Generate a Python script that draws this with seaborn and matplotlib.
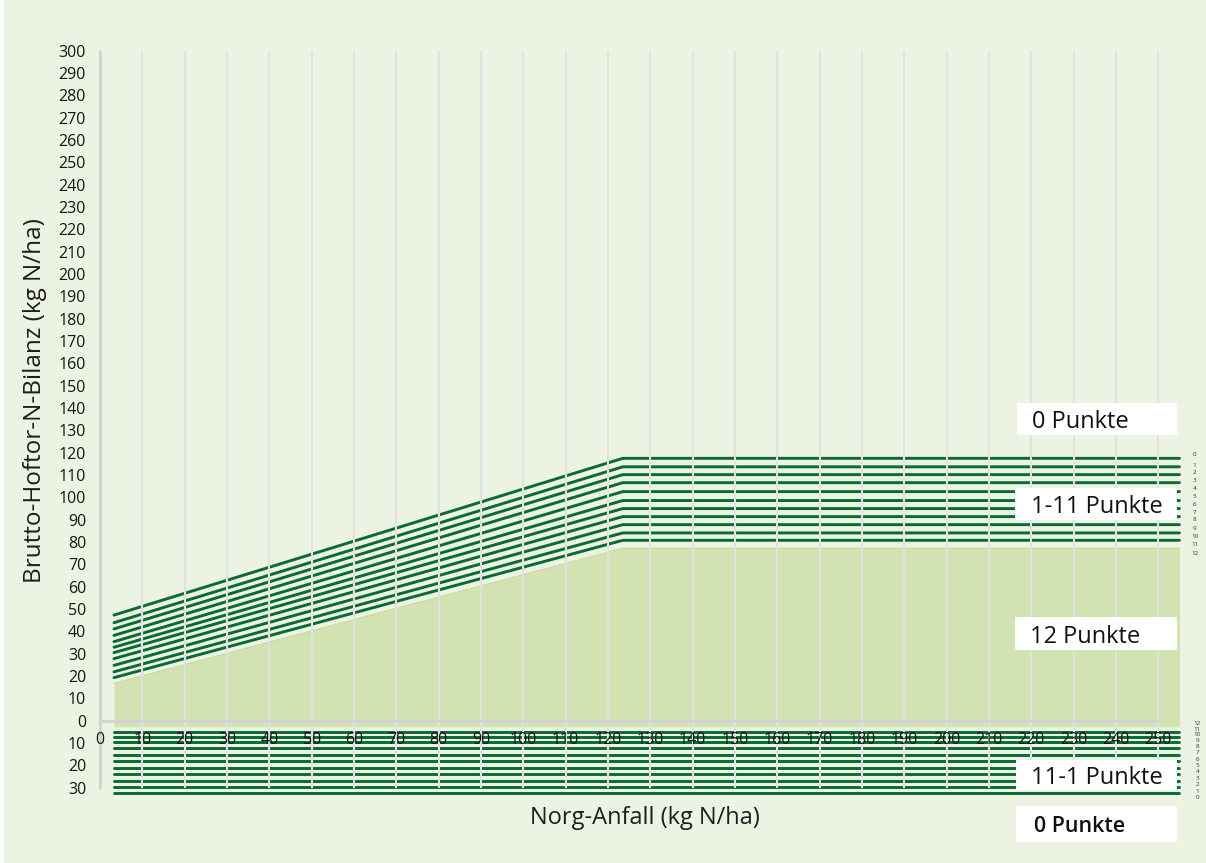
"""Brutto-Hoftor-N-Bilanz vs. Norg-Anfall: Punkte-Bereiche."""
import numpy as np
import pandas as pd
from matplotlib import pyplot as plt
from matplotlib.patches import Rectangle
import seaborn as sns

sns.set_style('white')
plt.rcParams['font.family'] = ['Open Sans', 'DejaVu Sans']

# Chart data
# Knots of the threshold lines: start, knee, end (kg N/ha)
norg = [3.3, 123.5, 255]
# Upper limit of the 12-Punkte area
fill_top = [16.7, 77.2, 77.2]
fill_bottom = -2.7
# Upper threshold lines (top to bottom): value at start and at knee
upper_start = [47.3, 43.9, 41.1, 38.2, 35.4, 32.9, 30.5, 27.8, 24.8, 21.9, 19.3]
upper_knee = [117.5, 113.7, 110.2, 106.6, 102.6, 98.6, 95.0, 91.4, 87.8, 84.1, 80.8]
# Lower (negative balance) threshold lines
lower_levels = [-5.2, -7.2, -9.4, -12.4, -15.4, -18.0, -21.0, -24.0, -26.9, -29.6, -32.2]
# Small point labels on the right
upper_points = list(range(0, 13))
upper_points_y = [119.0, 114.5, 111.1, 107.5, 103.8, 100.2, 96.7, 93.3, 89.9, 86.2, 82.4, 78.8, 75.0]
lower_points = list(range(12, -1, -1))
lower_points_y = [-1.2, -3.9, -6.1, -9.0, -11.6, -14.3, -17.3, -20.0, -22.8, -25.8, -28.7, -31.5, -34.5]
x_ticks = list(range(0, 251, 10))
y_ticks = list(range(-30, 301, 10))
y_ticklabels = [str(abs(v)) for v in y_ticks]

GREEN = '#0a6a36'
BG = '#ecf3e3'

# Long-form table for seaborn
rows = []
for i, (a, b) in enumerate(zip(upper_start, upper_knee)):
    for x, y in zip(norg, [a, b, b]):
        rows.append((f'u{i}', x, y))
for i, lvl in enumerate(lower_levels):
    for x in (norg[0], norg[-1]):
        rows.append((f'l{i}', x, lvl))
df = pd.DataFrame(rows, columns=['line', 'norg', 'bilanz'])

W, H = 1206, 863
fig = plt.figure(figsize=(W / 100, H / 100), dpi=100, facecolor=BG)
ax = fig.add_axes([100 / W, 1 - 798.9 / H, 1087.9 / W, 752.6 / H])
ax.set_facecolor('none')

# 12-Punkte area
ax.fill_between(norg, fill_bottom, fill_top, color='#d2e2b0', lw=0, zorder=1)
ax.plot(norg, fill_top, color='#c6dba0', lw=1, zorder=1.1)

# Threshold lines
sns.lineplot(df, x='norg', y='bilanz', units='line', estimator=None,
             color=GREEN, lw=2.1, ax=ax, zorder=2)

# Vertical gridlines drawn over the lines, under the tick labels
ax.vlines(x_ticks[1:], -30, 300, color='#e1e1e1', lw=1.5, zorder=2.3)

ax.set_xlim(0, 257)
ax.set_ylim(-35, 302)
ax.set_xticks(x_ticks)
ax.set_yticks(y_ticks, labels=y_ticklabels)
ax.tick_params(length=0, labelsize=11.5, colors='#151515')
ax.tick_params(axis='x', pad=8)
ax.tick_params(axis='y', pad=10)
ax.set_axisbelow(False)
ax.set_xlabel('')
ax.set_ylabel('')

for side in ['top', 'right']:
    ax.spines[side].set_visible(False)
ax.spines['left'].set_bounds(-30, 300)
ax.spines['left'].set_color('#cfcfcf')
ax.spines['left'].set_linewidth(1.8)
ax.spines['bottom'].set_position(('data', 0))
ax.spines['bottom'].set_bounds(0, 250)
ax.spines['bottom'].set_color('#d3d3d3')
ax.spines['bottom'].set_linewidth(2.2)

# Small point numbers on the right
for p, y in zip(upper_points, upper_points_y):
    ax.text(258.6, y, str(p), fontsize=4.5, ha='center', va='center', color='#333333')
for p, y in zip(lower_points, lower_points_y):
    ax.text(259.2, y, str(p), fontsize=4.5, ha='center', va='center', color='#333333')


def punkte_box(x0, y0, x1, y1, label, tx, size=17, weight='normal'):
    """White label box in pixel coordinates."""
    fig.patches.append(Rectangle(
        (x0 / W, 1 - y1 / H), (x1 - x0) / W, (y1 - y0) / H,
        transform=fig.transFigure, facecolor='white', edgecolor='none', zorder=5
    ))
    fig.text(tx / W, 1 - (y0 + y1) / 2 / H, label, ha='left', va='center_baseline',
             fontsize=size, weight=weight, color='#111111', zorder=6)


punkte_box(1017, 403, 1177, 435, '0 Punkte', 1032)
punkte_box(1015, 488, 1177, 520, '1-11 Punkte', 1031)
punkte_box(1015, 617, 1177, 650, '12 Punkte', 1030)
punkte_box(1016, 760, 1177, 790, '11-1 Punkte', 1031)
punkte_box(1016, 806, 1177, 842, '0 Punkte', 1034, size=15.5, weight='semibold')

fig.text(645 / W, 1 - 818 / H, 'Norg-Anfall (kg N/ha)', fontsize=17,
         ha='center', va='center', color='#1e1e1e')
fig.text(35 / W, 1 - 401 / H, 'Brutto-Hoftor-N-Bilanz (kg N/ha)', fontsize=17.5,
         rotation=90, ha='center', va='center', color='#1e1e1e')

fig.patches.append(Rectangle((0, 0), 4 / W, 1, transform=fig.transFigure,
                             facecolor='white', edgecolor='none', zorder=0))

fig.savefig('out.png', dpi=100, facecolor=BG)
